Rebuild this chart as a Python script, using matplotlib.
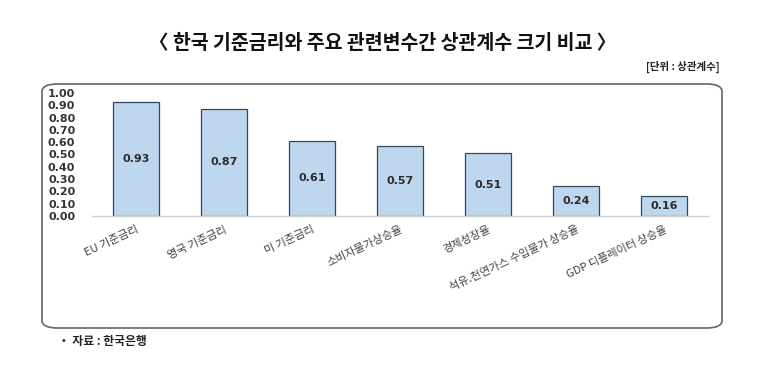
import matplotlib
matplotlib.use("Agg")
import matplotlib.pyplot as plt
from matplotlib.patches import FancyBboxPatch

categories = ["EU 기준금리", "영국 기준금리", "미 기준금리", "소비자물가상승율", "경제성장율",
              "석유.천연가스 수입물가 상승율", "GDP 디플레이터 상승율"]
values = [0.93, 0.87, 0.61, 0.57, 0.51, 0.24, 0.16]
yticks = [0.0, 0.1, 0.2, 0.3, 0.4, 0.5, 0.6, 0.7, 0.8, 0.9, 1.0]

plt.rcParams['font.family'] = ['Noto Sans CJK KR', 'DejaVu Sans']

W, H = 766, 376
fig = plt.figure(figsize=(W/100, H/100), dpi=100)

# rounded frame
box = FancyBboxPatch((42/W, 1-328/H), (722-42)/W, (328-84)/H,
                     boxstyle="round,pad=0,rounding_size=0.02",
                     transform=fig.transFigure, fill=False,
                     edgecolor="#5b6878", linewidth=1.2)
fig.patches.append(box)

ax = fig.add_axes([92/W, 1-216/H, (708-92)/W, (216-93)/H])
x = list(range(len(categories)))
ax.bar(x, values, width=0.53, color="#bdd7ee", edgecolor="#34455e", linewidth=0.9, zorder=2)
for xi, v in zip(x, values):
    ax.text(xi, v/2, f"{v:.2f}", ha="center", va="center", fontsize=8,
            fontweight="bold", color="#2b2b2b", family=['DejaVu Sans'])

ax.set_xlim(-0.5, len(categories)-0.5)
ax.set_ylim(0, 1.0)
ax.set_yticks(yticks)
ax.set_yticklabels([f"{t:.2f}" for t in yticks], fontsize=8, fontweight="bold",
                   color="#333333", family=['DejaVu Sans'])
ax.tick_params(axis='y', length=0, pad=12)
ax.tick_params(axis='x', length=0, pad=6)
ax.set_xticks(x)
ax.set_xticklabels(categories, rotation=25, ha="right", rotation_mode="anchor",
                   fontsize=8, color="#404040")
for s in ["top", "right", "left"]:
    ax.spines[s].set_visible(False)
ax.spines["bottom"].set_color("#d0d0d0")
ax.spines["bottom"].set_linewidth(1.0)
ax.patch.set_visible(False)

fig.text(383/W, 1-43/H, "〈 한국 기준금리와 주요 관련변수간 상관계수 크기 비교 〉", ha="center", va="center",
         fontsize=14, fontweight="bold", color="#111111")
fig.text(720/W, 1-67/H, "[단위 : 상관계수]", ha="right", va="center", fontsize=7.5,
         fontweight="bold", color="#222222")
fig.text(58/W, 1-341/H, "・ 자료 : 한국은행", ha="left", va="center", fontsize=8.5,
         fontweight="bold", color="#222222")

fig.savefig("out.png", dpi=100)
